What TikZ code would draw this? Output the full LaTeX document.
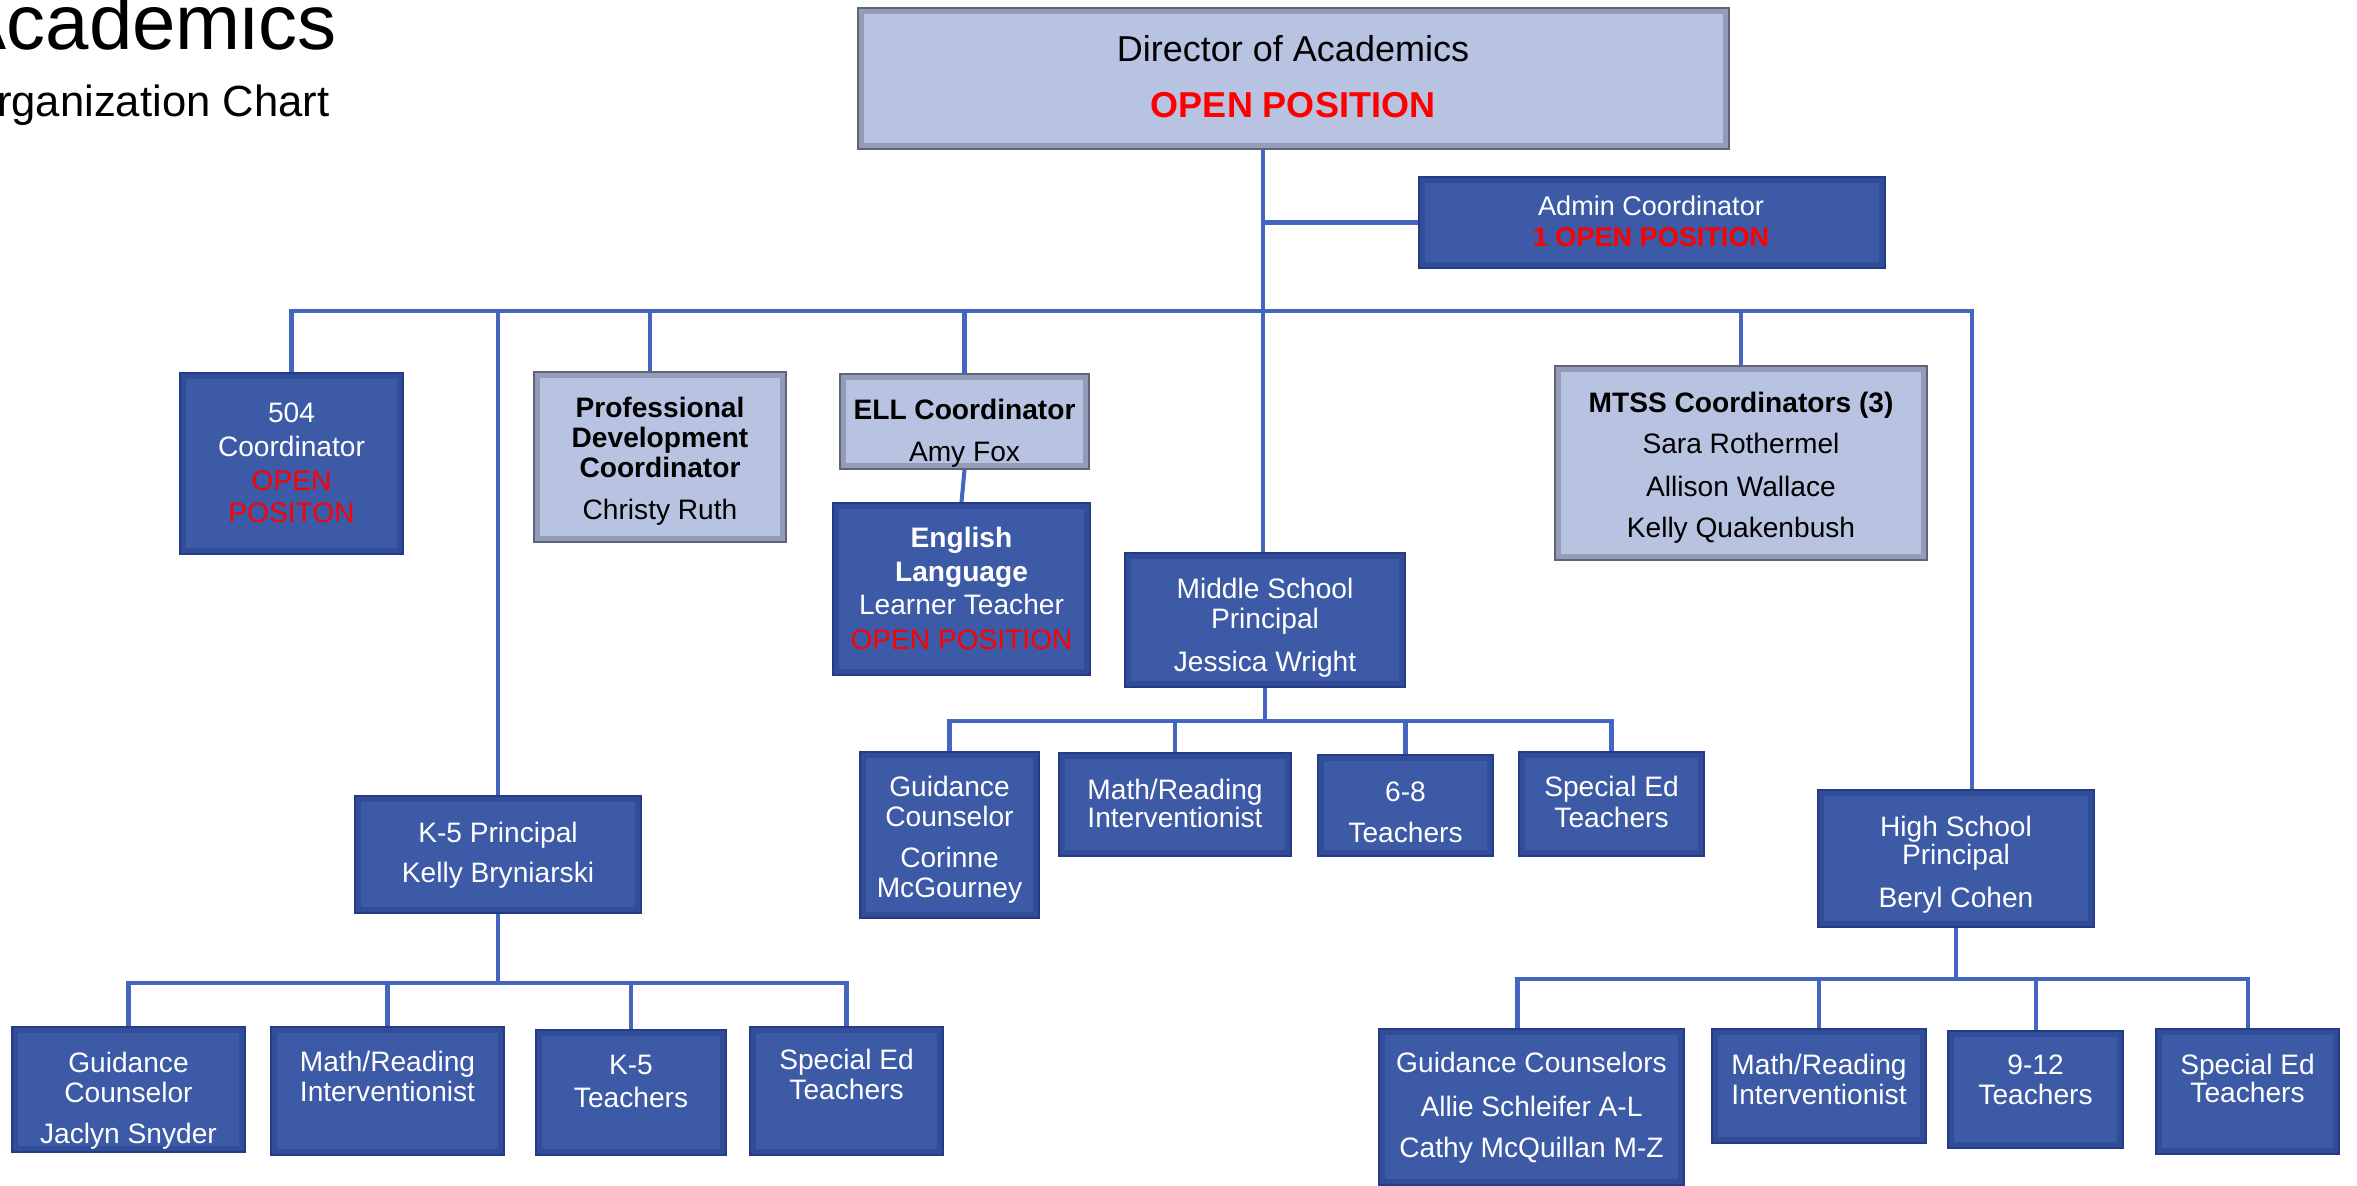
\documentclass[tikz,border=0pt]{standalone}
\usepackage{fontspec}
\setmainfont{Liberation Sans}
\usetikzlibrary{calc}
\definecolor{dfill}{RGB}{61,90,167}
\definecolor{dedge}{RGB}{36,60,134}
\definecolor{lfill}{RGB}{184,195,225}
\definecolor{ledge}{RGB}{95,100,120}
\definecolor{linec}{RGB}{68,102,193}
\definecolor{openred}{RGB}{255,0,0}
\newcounter{tlc}
\newcommand\tline[4][]{\stepcounter{tlc}\node[txt,#1] (tl\arabic{tlc}) at (#2,#3) {#4};}
\newcommand\bx[6][]{\node[#1,minimum width={(#5-#3)*0.01cm},minimum height={(#6-#4)*0.01cm}] (#2) at ({(#3+#5)/2},{(#4+#6)/2}) {};}
\tikzset{
  x=0.01cm,y=-0.01cm,
  dbox/.style={rectangle,inner sep=0pt,fill=dfill,draw=dedge,line width=0.6pt,
    path picture={\draw[dedge,line width=3.2pt,opacity=0.45] (path picture bounding box.south west) rectangle (path picture bounding box.north east);}},
  lbox/.style={rectangle,inner sep=0pt,fill=lfill,draw=ledge,line width=0.6pt,
    path picture={\draw[ledge,line width=3.2pt,opacity=0.4] (path picture bounding box.south west) rectangle (path picture bounding box.north east);}},
  conn/.style={draw=linec,line width=1.15pt},
  txt/.style={anchor=base,inner sep=0pt,font=\fontsize{8}{9.6}\selectfont,text=white},
  ltxt/.style={text=black},
  red/.style={text=openred},
  bf/.style={font=\fontsize{8}{9.6}\selectfont\bfseries},
}
\begin{document}
\begin{tikzpicture}
\useasboundingbox (0,0) rectangle (2357,1186);
\clip (0,0) rectangle (2357,1186);
\fill[white] (0,0) rectangle (2357,1186);

% title
\node[anchor=base east,inner sep=0pt,font=\fontsize{22.2}{26}\selectfont] (title1) at (337,50) {Academics};
\node[anchor=base east,inner sep=0pt,font=\fontsize{12.4}{15}\selectfont] (title2) at (330,117) {Organization Chart};

% boxes
\bx[lbox]{dir}{858}{8}{1729}{149}
\bx[dbox]{admin}{1419}{177}{1885}{268}
\bx[dbox]{c504}{180}{373}{403}{554}
\bx[lbox]{pd}{534}{372}{786}{542}
\bx[lbox]{ell}{840}{374}{1089}{469}
\bx[dbox]{elt}{833}{503}{1090}{675}
\bx[dbox]{ms}{1125}{553}{1405}{687}
\bx[lbox]{mtss}{1555}{366}{1927}{560}
\bx[dbox]{k5p}{355}{796}{641}{913}
\bx[dbox]{hsp}{1818}{790}{2094}{927}
\bx[dbox]{g1}{860}{752}{1039}{918}
\bx[dbox]{m1}{1059}{753}{1291}{856}
\bx[dbox]{t1}{1318}{755}{1493}{856}
\bx[dbox]{s1}{1519}{752}{1704}{856}
\bx[dbox]{g2}{12}{1027}{245}{1152}
\bx[dbox]{m2}{271}{1027}{504}{1155}
\bx[dbox]{t2}{536}{1030}{726}{1155}
\bx[dbox]{s2}{750}{1027}{943}{1155}
\bx[dbox]{g3}{1379}{1029}{1684}{1185}
\bx[dbox]{m3}{1712}{1029}{1926}{1143}
\bx[dbox]{t3}{1948}{1031}{2123}{1148}
\bx[dbox]{s3}{2156}{1029}{2339}{1154}

% connectors
\coordinate (top) at (1263,311);
\draw[conn] (dir.south -| top) -- (ms.north -| top);
\draw[conn,line width=1.6pt] (admin.west) -- (admin.west -| top);
\draw[conn] (c504.north) |- (top);
\draw[conn] (top) -| ($(hsp.north)+(16,0)$);
\draw[conn] (top) -| (k5p.north);
\draw[conn] (top) -| ($(pd.north)+(-10,0)$);
\draw[conn] (top) -| (ell.north);
\draw[conn] (top) -| (mtss.north);
\draw[conn] (ell.south) -- (elt.north);

\coordinate (msj) at (1265,721);
\draw[conn] (ms.south) -- (msj);
\foreach \n in {g1,m1,t1,s1} \draw[conn] (msj) -| (\n.north);

\coordinate (k5j) at (498,983);
\draw[conn] (k5p.south) -- (k5j);
\foreach \n in {g2,m2,t2,s2} \draw[conn] (k5j) -| (\n.north);

\coordinate (hsj) at (1956,979);
\draw[conn] (hsp.south) -- (hsj);
\draw[conn] (hsj) -| ($(g3.north)+(-14,0)$);
\foreach \n in {m3,t3,s3} \draw[conn] (hsj) -| (\n.north);

% texts
\tline[ltxt,font=\fontsize{10.24}{12}\selectfont]{1293}{62}{Director of Academics}
\tline[red,font=\fontsize{10.24}{12}\selectfont\bfseries]{1293}{118}{OPEN POSITION}

\tline[font=\fontsize{7.7}{9}\selectfont]{1651}{216}{Admin Coordinator}
\tline[red,font=\fontsize{7.7}{9}\selectfont\bfseries]{1651}{247}{1 OPEN POSITION}

\tline{291.5}{423}{504}
\tline{291.5}{457}{Coordinator}
\tline[red]{291.5}{491}{OPEN}
\tline[red]{291.5}{523}{POSITON}

\tline[ltxt,bf]{660}{418}{Professional}
\tline[ltxt,bf]{660}{448}{Development}
\tline[ltxt,bf]{660}{478}{Coordinator}
\tline[ltxt]{660}{520}{Christy Ruth}

\tline[ltxt,bf]{964.5}{420}{ELL Coordinator}
\tline[ltxt]{964.5}{462}{Amy Fox}

\tline[bf]{961.5}{548}{English}
\tline[bf]{961.5}{582}{Language}
\tline{961.5}{615}{Learner Teacher}
\tline[red]{961.5}{650}{OPEN POSITION}

\tline{1265}{599}{Middle School}
\tline{1265}{629}{Principal}
\tline{1265}{672}{Jessica Wright}

\tline[ltxt,bf]{1741}{413}{MTSS Coordinators (3)}
\tline[ltxt]{1741}{454}{Sara Rothermel}
\tline[ltxt]{1741}{497}{Allison Wallace}
\tline[ltxt]{1741}{538}{Kelly Quakenbush}

\tline{498}{843}{K-5 Principal}
\tline{498}{883}{Kelly Bryniarski}

\tline{1956}{837}{High School}
\tline{1956}{865}{Principal}
\tline{1956}{908}{Beryl Cohen}

\tline{949.5}{797}{Guidance}
\tline{949.5}{827}{Counselor}
\tline{949.5}{868}{Corinne}
\tline{949.5}{898}{McGourney}
\tline{1175}{800}{Math/Reading}
\tline{1175}{828}{Interventionist}
\tline{1405.5}{802}{6-8}
\tline{1405.5}{843}{Teachers}
\tline{1611.5}{797}{Special Ed}
\tline{1611.5}{828}{Teachers}

\tline{128.5}{1073}{Guidance}
\tline{128.5}{1103}{Counselor}
\tline{128.5}{1143}{Jaclyn Snyder}
\tline{387.5}{1072}{Math/Reading}
\tline{387.5}{1102}{Interventionist}
\tline{631}{1075}{K-5}
\tline{631}{1108}{Teachers}
\tline{846.5}{1070}{Special Ed}
\tline{846.5}{1100}{Teachers}

\tline{1531.5}{1073}{Guidance Counselors}
\tline{1531.5}{1117}{Allie Schleifer A-L}
\tline{1531.5}{1158}{Cathy McQuillan M-Z}
\tline{1819}{1075}{Math/Reading}
\tline{1819}{1105}{Interventionist}
\tline{2035.5}{1075}{9-12}
\tline{2035.5}{1105}{Teachers}
\tline{2247.5}{1075}{Special Ed}
\tline{2247.5}{1103}{Teachers}
\end{tikzpicture}
\end{document}
